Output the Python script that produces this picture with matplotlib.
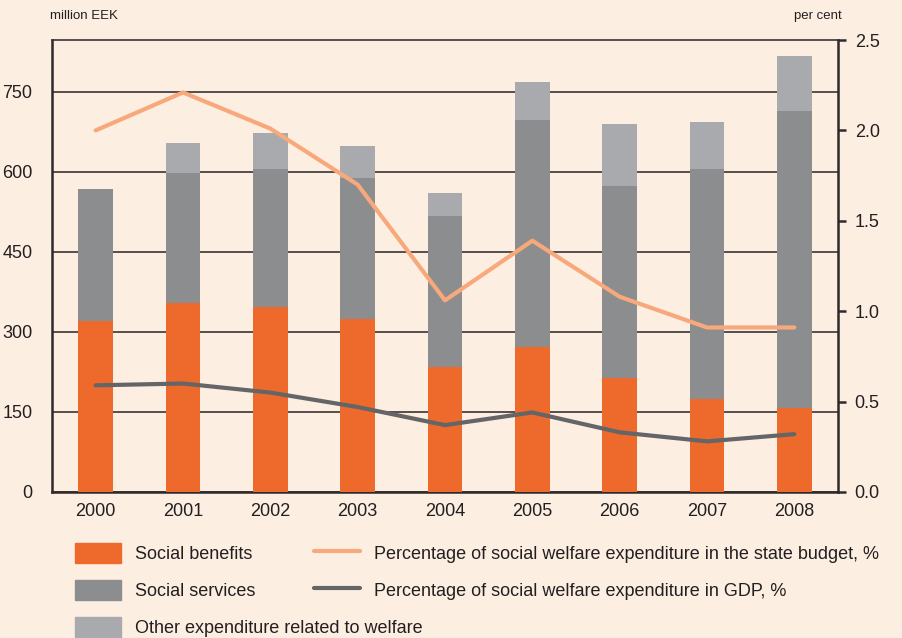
import numpy as np
import matplotlib.pyplot as plt
from matplotlib.patches import Patch
from matplotlib.lines import Line2D

plt.rcParams['font.family'] = ['Liberation Sans', 'DejaVu Sans']

years = ['2000', '2001', '2002', '2003', '2004', '2005', '2006', '2007', '2008']
benefits = [320, 354, 347, 324, 234, 272, 214, 174, 158]
services = [248, 244, 259, 265, 283, 425, 360, 432, 556]
other = [0, 56, 67, 60, 44, 72, 116, 88, 103]
pct_budget = [2.00, 2.21, 2.01, 1.70, 1.06, 1.39, 1.08, 0.91, 0.91]
pct_gdp = [0.59, 0.60, 0.55, 0.47, 0.37, 0.44, 0.33, 0.28, 0.32]

bg = '#FDEEE2'
dark = '#2E2A2B'
c_ben = '#EE6A2C'
c_srv = '#8C8D8F'
c_oth = '#A9AAAD'
c_bud = '#F7A97C'
c_gdp = '#646566'

fig = plt.figure(figsize=(9.03, 6.38), dpi=100, facecolor=bg)
ax = fig.add_axes([52 / 903, 1 - 492 / 638, (838 - 52) / 903, 452 / 638])
ax.set_facecolor(bg)

x = np.arange(len(years))
w = 0.40
ben = np.array(benefits)
srv = np.array(services)
ax.bar(x, ben, w, color=c_ben, zorder=3)
ax.bar(x, srv, w, bottom=ben, color=c_srv, zorder=3)
ax.bar(x, other, w, bottom=ben + srv, color=c_oth, zorder=3)

# left axis top set so the grid matches the right-hand scale
ax.set_ylim(0, 847.5)
ax.set_xlim(-0.5, 8.5)
ax.set_yticks([0, 150, 300, 450, 600, 750])
ax.yaxis.grid(True, color='#3A3334', lw=1.2, zorder=1)
ax.set_axisbelow(True)
ax.set_xticks(x)
ax.set_xticklabels(years)
ax.tick_params(axis='both', length=0, labelsize=13, colors='#231F20', pad=8)
ax.tick_params(axis='y', pad=14)
for s in ['left', 'bottom']:
    ax.spines[s].set_color(dark)
    ax.spines[s].set_linewidth(1.8)
ax.spines['top'].set_color('#3A3334')
ax.spines['top'].set_linewidth(1.2)
ax.spines['right'].set_visible(False)

ax2 = ax.twinx()
ax2.set_ylim(0, 2.5)
ax2.set_yticks([0, 0.5, 1.0, 1.5, 2.0, 2.5])
ax2.set_yticklabels(['0.0', '0.5', '1.0', '1.5', '2.0', '2.5'])
ax2.tick_params(axis='y', length=6, width=1.8, color=dark, labelsize=13,
                labelcolor='#231F20', pad=6)
for s in ['left', 'top', 'bottom']:
    ax2.spines[s].set_visible(False)
ax2.spines['right'].set_color(dark)
ax2.spines['right'].set_linewidth(1.8)
ax2.plot(x, pct_budget, color=c_bud, lw=3, solid_capstyle='round', zorder=4)
ax2.plot(x, pct_gdp, color=c_gdp, lw=3, solid_capstyle='round', zorder=4)

fig.text(50 / 903, 1 - 16 / 638, 'million EEK', fontsize=9.5, color='#231F20',
         va='center', ha='left')
fig.text(842 / 903, 1 - 16 / 638, 'per cent', fontsize=9.5, color='#231F20',
         va='center', ha='right')

h1 = [Patch(color=c_ben), Patch(color=c_srv), Patch(color=c_oth)]
l1 = ['Social benefits', 'Social services', 'Other expenditure related to welfare']
h2 = [Line2D([], [], color=c_bud, lw=3, solid_capstyle='round'),
      Line2D([], [], color=c_gdp, lw=3, solid_capstyle='round')]
l2 = ['Percentage of social welfare expenditure in the state budget, %',
      'Percentage of social welfare expenditure in GDP, %']

kw = dict(frameon=False, fontsize=13, handlelength=2.55, handleheight=1.3,
          handletextpad=0.8, labelspacing=0.95, borderaxespad=0, borderpad=0,
          labelcolor='#231F20')
leg1 = fig.legend(h1, l1, loc='upper left', bbox_to_anchor=(75 / 903, 1 - 543 / 638), **kw)
leg2 = fig.legend(h2, l2, loc='upper left', bbox_to_anchor=(314 / 903, 1 - 543 / 638), **kw)

fig.savefig('out.png', dpi=100, facecolor=bg)
